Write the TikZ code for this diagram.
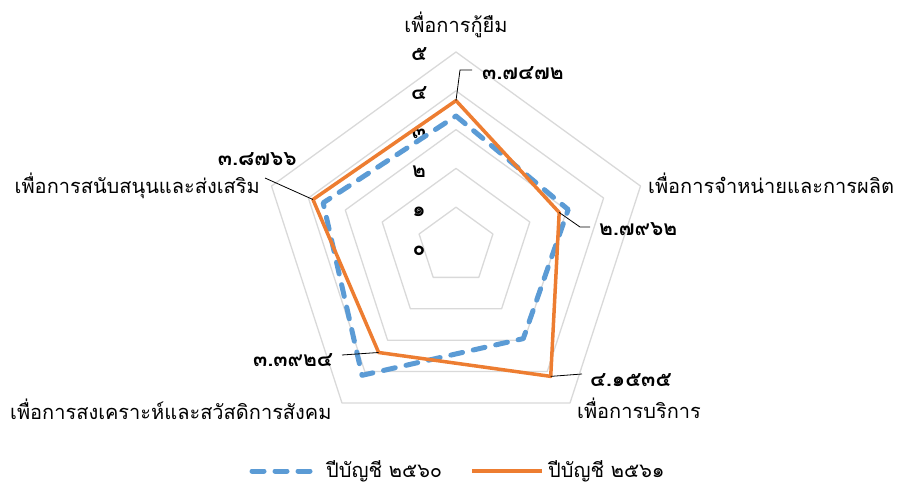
\documentclass[tikz,border=0pt]{standalone}
\usepackage{fontspec}
\newfontfamily\thaifont[Script=Thai]{Loma}
\definecolor{blue60}{HTML}{5B9BD5}
\definecolor{orange61}{HTML}{ED7D31}
\definecolor{gridgray}{HTML}{D9D9D9}

\begin{document}
\begin{tikzpicture}[x=1pt,y=-1pt]
        \tikzstyle{every node}=[inner sep=0pt]
        \tikzstyle{grid}=[draw=gridgray,line width=1.3pt,line join=round]
        \tikzstyle{cat}=[font=\thaifont\fontsize{20}{22}\selectfont]
        \tikzstyle{val}=[font=\thaifont\bfseries\fontsize{21}{23}\selectfont]
        \tikzstyle{tick}=[font=\thaifont\bfseries\fontsize{21}{23}\selectfont]
        \tikzstyle{y60}=[draw=blue60,line width=5pt,line cap=round,line join=round,dash pattern=on 12pt off 11pt]
        \tikzstyle{y61}=[draw=orange61,line width=3.5pt,line join=round]
        \tikzstyle{leader}=[draw=black,line width=0.8pt]

        \useasboundingbox (0,0) rectangle (903,487);

        \begin{scope}[shift={(456,246)}]
        % grid pentagons
        \foreach \k in {1,...,5}
            \draw[grid] (-90:\k*38.8) -- (-18:\k*38.8) -- (54:\k*38.8) -- (126:\k*38.8) -- (198:\k*38.8) -- cycle;
        % scale labels
        \foreach \k/\t in {0/๐,1/๑,2/๒,3/๓,4/๔,5/๕}
            \node[tick,anchor=base] (t\k) at (-37,9-\k*38.8) {\t};
        % points of both years
        \foreach \i/\a/\p/\q in {0/-90/3.35/3.7472,1/-18/3.04/2.7962,2/54/2.95/4.1535,3/126/4.12/3.3924,4/198/3.60/3.8766} {
            \coordinate (b\i) at (\a:\p*38.8);
            \coordinate (o\i) at (\a:\q*38.8);
        }
        \end{scope}

        \draw[y60] (b0) -- (b1) -- (b2) -- (b3) -- (b4) -- cycle;
        \draw[y61] (o0) -- (o1) -- (o2) -- (o3) -- (o4) -- cycle;

        % category labels
        \node[cat,anchor=base] (c0) at (456,33) {เพื่อการกู้ยืม};
        \node[cat,anchor=base west] (c1) at (648,193) {เพื่อการจำหน่ายและการผลิต};
        \node[cat,anchor=base east] (c4) at (260,193) {เพื่อการสนับสนุนและส่งเสริม};
        \node[cat,anchor=base west] (c3) at (10,419) {เพื่อการสงเคราะห์และสวัสดิการสังคม};
        \node[cat,anchor=base west] (c2) at (577,418) {เพื่อการบริการ};

        % value labels
        \node[val,anchor=base west] (v0) at (482,80) {๓.๗๔๗๒};
        \node[val,anchor=base west] (v1) at (599,235) {๒.๗๙๖๒};
        \node[val,anchor=base west] (v2) at (590,386) {๔.๑๕๓๕};
        \node[val,anchor=base east] (v3) at (333,366) {๓.๓๙๒๔};
        \node[val,anchor=base east] (v4) at (297,165) {๓.๘๗๖๖};

        \coordinate (l0) at (460,70);
        \coordinate (l1) at (580,227);
        \coordinate (l2) at (582,374);
        \coordinate (l3) at (342,355);
        \coordinate (l4) at (265,178);
        \draw[leader] (o0) -- (l0) -- (472,70);
        \draw[leader] (o1) -- (l1) -- (590,227);
        \draw[leader] (o2) -- (l2);
        \draw[leader] (o3) -- (l3);
        \draw[leader] (o4) -- (l4);

        % legend
        \coordinate (k0) at (252,471);
        \coordinate (k1) at (315,471);
        \coordinate (k2) at (472,471);
        \coordinate (k3) at (542,471);
        \draw[y60] (k0) -- (k1);
        \draw[y61] (k2) -- (k3);
        \node[cat,anchor=base west] (n60) at (326,477) {ปีบัญชี ๒๕๖๐};
        \node[cat,anchor=base west] (n61) at (548,477) {ปีบัญชี ๒๕๖๑};
\end{tikzpicture}
\end{document}
